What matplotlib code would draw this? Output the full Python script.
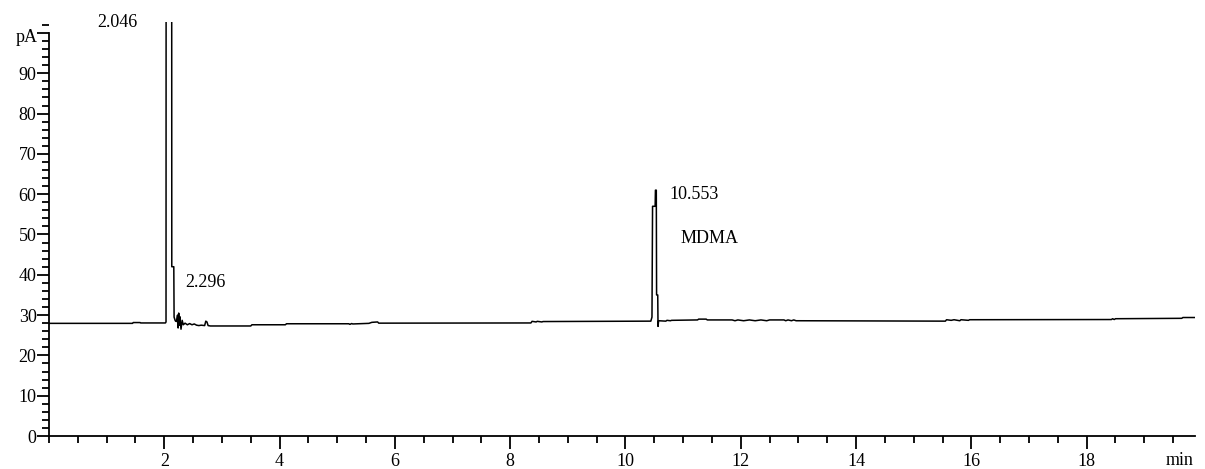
import matplotlib.pyplot as plt
from matplotlib.ticker import MultipleLocator, FixedLocator

# chromatogram trace (min, pA)
time_min = [
    0.0, 1.45, 1.46, 1.58, 1.59, 2.02, 2.03, 2.035, 2.125, 2.13, 2.165,
    2.17, 2.19, 2.21, 2.23, 2.24, 2.25, 2.26, 2.27, 2.29, 2.31, 2.33,
    2.36, 2.40, 2.44, 2.48, 2.52, 2.56, 2.60, 2.64, 2.70, 2.72, 2.74,
    2.76, 2.80, 3.50, 3.52, 4.10, 4.12, 5.20, 5.22, 5.25, 5.27, 5.55,
    5.60, 5.70, 5.72, 8.36, 8.38, 8.45, 8.47, 8.55, 8.57, 10.44, 10.46,
    10.47, 10.515, 10.52, 10.535, 10.54, 10.56, 10.565, 10.575, 10.70,
    10.72, 10.78, 10.80, 11.25, 11.27, 11.40, 11.42, 11.85, 11.90, 11.95,
    12.05, 12.15, 12.25, 12.35, 12.45, 12.50, 12.75, 12.78, 12.82, 12.88,
    12.92, 12.96, 15.55, 15.57, 15.65, 15.70, 15.80, 15.82, 15.95, 15.97,
    18.43, 18.45, 18.48, 18.50, 19.65, 19.67, 19.88,
]
signal_pa = [
    27.95, 27.95, 28.15, 28.15, 28.05, 28.05, 28.3, 300.0, 300.0, 42.0, 42.0,
    29.5, 28.6, 28.4, 30.0, 26.8, 30.5, 27.5, 29.6, 26.5, 28.7, 27.6,
    28.0, 27.6, 27.9, 27.6, 27.8, 27.5, 27.4, 27.5, 27.4, 28.5, 28.3,
    27.4, 27.3, 27.3, 27.6, 27.6, 27.85, 27.85, 27.7, 27.9, 27.8, 27.95,
    28.2, 28.3, 28.0, 28.05, 28.45, 28.3, 28.45, 28.3, 28.4, 28.5, 29.5,
    57.0, 57.0, 61.0, 61.0, 35.0, 35.0, 27.2, 28.6, 28.5,
    28.7, 28.6, 28.7, 28.8, 29.0, 29.0, 28.8, 28.8, 28.6, 28.8,
    28.6, 28.8, 28.6, 28.8, 28.6, 28.8, 28.8, 28.6, 28.8, 28.6,
    28.8, 28.6, 28.5, 28.85, 28.7, 28.85, 28.6, 28.85, 28.7, 28.85,
    28.9, 29.1, 28.9, 29.1, 29.2, 29.4, 29.4,
]

# peak annotations: (x, y, text, alignment)
peak_labels = [
    (1.18, 102.7, "2.046", "center"),
    (2.72, 38.0, "2.296", "center"),
    (10.76, 60.0, "10.553", "left"),
    (10.95, 48.9, "MDMA", "left"),
]

x_ticks = [2, 4, 6, 8, 10, 12, 14, 16, 18]
y_ticks = [0, 10, 20, 30, 40, 50, 60, 70, 80, 90]

font = "Liberation Serif"
fsize = 13

fig = plt.figure(figsize=(12.05, 4.69), dpi=100)
ax = fig.add_axes([49 / 1205, 33 / 469, 1146 / 1205, 414.3 / 469])

ax.plot(time_min, signal_pa, color="black", linewidth=1.1)

ax.set_xlim(0, 19.88)
ax.set_ylim(0, 102.8)

for side in ["top", "right"]:
    ax.spines[side].set_visible(False)
ax.spines["left"].set_bounds(0, 100)
ax.spines["left"].set_linewidth(1.3)
ax.spines["bottom"].set_linewidth(1.3)

ax.xaxis.set_major_locator(FixedLocator(x_ticks))
ax.xaxis.set_minor_locator(MultipleLocator(0.5))
ax.yaxis.set_major_locator(FixedLocator(y_ticks + [100]))
ax.yaxis.set_minor_locator(MultipleLocator(2))
ax.set_xticklabels([str(v) for v in x_ticks])
ax.set_yticklabels([str(v) for v in y_ticks] + [""])

ax.tick_params(axis="x", which="major", direction="out", length=9, width=1.3, pad=3)
ax.tick_params(axis="x", which="minor", direction="out", length=5, width=1.3)
ax.tick_params(axis="y", which="major", direction="out", length=9, width=1.3, pad=0)
ax.tick_params(axis="y", which="minor", direction="out", length=5, width=1.3)

for lbl in ax.get_xticklabels() + ax.get_yticklabels():
    lbl.set_fontfamily(font)
    lbl.set_fontsize(fsize)

ax.text(-0.2, 98.8, "pA", ha="right", va="center", fontsize=fsize,
        family=font, clip_on=False)
ax.text(19.62, -6.0, "min", ha="center", va="center", fontsize=fsize,
        family=font, clip_on=False)

for x, y, txt, ha in peak_labels:
    ax.text(x, y, txt, ha=ha, va="center", fontsize=fsize, family=font,
            clip_on=False)

fig.savefig("out.png", dpi=100)
plt.close(fig)
